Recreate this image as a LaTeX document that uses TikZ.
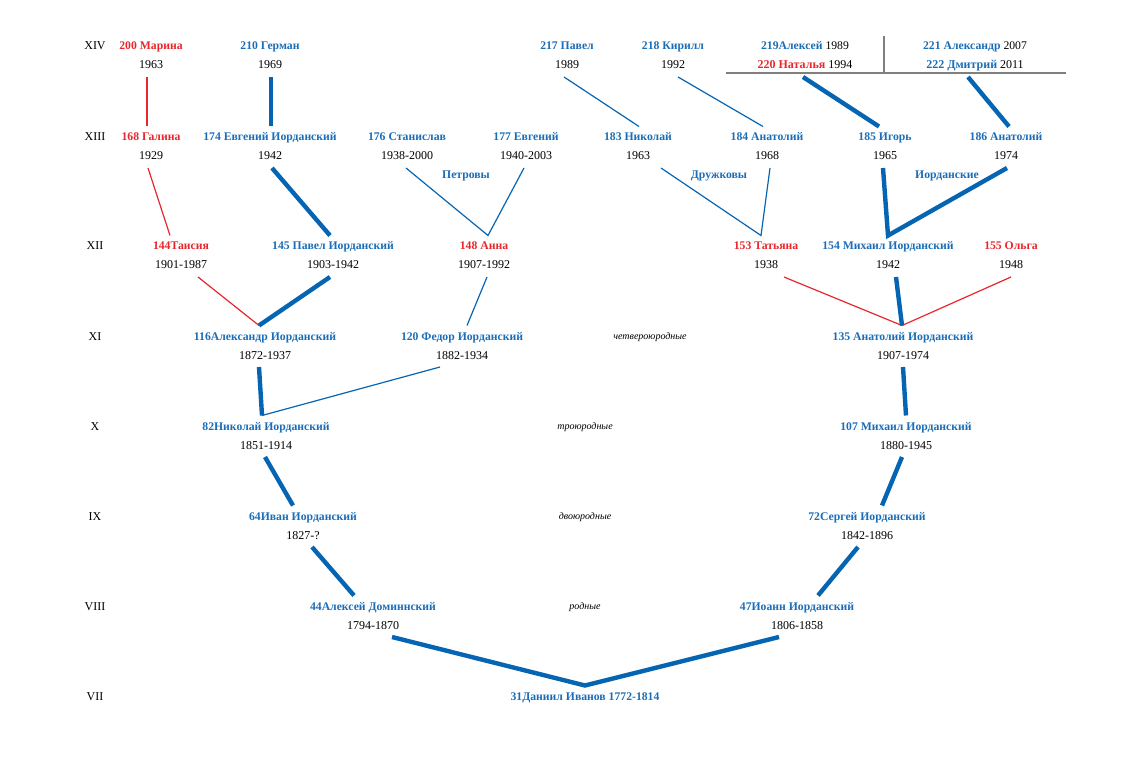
\documentclass[tikz,border=0pt]{standalone}
\usepackage{fontspec}
\setmainfont{Liberation Serif}
\usetikzlibrary{calc}
\definecolor{tblue}{HTML}{1B6DB7}
\definecolor{tred}{HTML}{E8262C}
\definecolor{lblue}{HTML}{0565B3}
\definecolor{lgray}{HTML}{7F7F7F}
\tikzset{
  nm/.style={anchor=base,inner sep=0pt,text height=8pt,text depth=2pt,outer xsep=0pt,outer ysep=6.5pt,font=\fontsize{11.7}{13}\selectfont\bfseries,text=tblue},
  nmr/.style={nm,text=tred},
  yr/.style={anchor=base,inner sep=0pt,text height=8pt,text depth=0pt,outer xsep=0pt,outer ysep=8pt,font=\fontsize{12}{13}\selectfont,text=black},
  gen/.style={anchor=base,inner sep=0pt,font=\fontsize{12}{13}\selectfont,text=black},
  rel/.style={anchor=base,inner sep=0pt,font=\fontsize{10}{12}\selectfont\itshape,text=black},
  fam/.style={anchor=base,inner sep=0pt,font=\fontsize{11.7}{13}\selectfont\bfseries,text=tblue},
  thinb/.style={draw=lblue,line width=1.2pt},
  thickb/.style={draw=lblue,line width=4.4pt},
  thinr/.style={draw=tred,line width=1.2pt},
  grayl/.style={draw=lgray,line width=1.2pt}
}
\begin{document}
\begin{tikzpicture}[x=1pt,y=-1pt]
\useasboundingbox (0,0) rectangle (1127,759);
% generation labels
\foreach \g/\yy in {XIV/45,XIII/136,XII/245,XI/335,X/425,IX/515,VIII/605,VII/695}
  \node[gen] at (95,\yy+5) {\g};
% XIV
\node[nmr] (n200) at (151,50) {200 Марина};
\node[yr]  (y200) at (151,69) {1963};
\node[nm]  (n210) at (270,50) {210 Герман};
\node[yr]  (y210) at (270,69) {1969};
\node[nm]  (n217) at (567,50) {217 Павел};
\node[yr]  (y217) at (567,69) {1989};
\node[nm]  (n218) at (673,50) {218 Кирилл};
\node[yr]  (y218) at (673,69) {1992};
\node[nm]  (p219) at (805,50) {219Алексей \mdseries\color{black}1989};
\node[yr]  (p220) at (805,69) {\bfseries\color{tred}220 Наталья \mdseries\color{black}1994};
\node[nm]  (p221) at (975,50) {221 Александр \mdseries\color{black}2007};
\node[yr]  (p222) at (975,69) {\bfseries\color{tblue}222 Дмитрий \mdseries\color{black}2011};
\draw[grayl] (726,73) -- (1066,73);
\draw[grayl] (884,36) -- (884,73);
% XIII
\node[nmr] (n168) at (151,141) {168 Галина};
\node[yr]  (y168) at (151,160) {1929};
\node[nm]  (n174) at (270,141) {174 Евгений Иорданский};
\node[yr]  (y174) at (270,160) {1942};
\node[nm]  (n176) at (407,141) {176 Станислав};
\node[yr]  (y176) at (407,160) {1938-2000};
\node[nm]  (n177) at (526,141) {177 Евгений};
\node[yr]  (y177) at (526,160) {1940-2003};
\node[nm]  (n183) at (638,141) {183 Николай};
\node[yr]  (y183) at (638,160) {1963};
\node[nm]  (n184) at (767,141) {184 Анатолий};
\node[yr]  (y184) at (767,160) {1968};
\node[nm]  (n185) at (885,141) {185 Игорь};
\node[yr]  (y185) at (885,160) {1965};
\node[nm]  (n186) at (1006,141) {186 Анатолий};
\node[yr]  (y186) at (1006,160) {1974};
\node[fam] (fp) at (466,179) {Петровы};
\node[fam] (fd) at (719,179) {Дружковы};
\node[fam] (fi) at (947,179) {Иорданские};
% XII
\node[nmr] (n144) at (181,250) {144Таисия};
\node[yr]  (y144) at (181,269) {1901-1987};
\node[nm]  (n145) at (333,250) {145 Павел Иорданский};
\node[yr]  (y145) at (333,269) {1903-1942};
\node[nmr] (n148) at (484,250) {148 Анна};
\node[yr]  (y148) at (484,269) {1907-1992};
\node[nmr] (n153) at (766,250) {153 Татьяна};
\node[yr]  (y153) at (766,269) {1938};
\node[nm]  (n154) at (888,250) {154 Михаил Иорданский};
\node[yr]  (y154) at (888,269) {1942};
\node[nmr] (n155) at (1011,250) {155 Ольга};
\node[yr]  (y155) at (1011,269) {1948};
% XI
\node[nm]  (n116) at (265,340) {116Александр Иорданский};
\node[yr]  (y116) at (265,359) {1872-1937};
\node[nm]  (n120) at (462,340) {120 Федор Иорданский};
\node[yr]  (y120) at (462,359) {1882-1934};
\node[rel] (r4) at (650,339) {четвероюродные};
\node[nm]  (n135) at (903,340) {135 Анатолий Иорданский};
\node[yr]  (y135) at (903,359) {1907-1974};
% X
\node[nm]  (n82) at (266,430) {82Николай Иорданский};
\node[yr]  (y82) at (266,449) {1851-1914};
\node[rel] (r3) at (585,429) {троюродные};
\node[nm]  (n107) at (906,430) {107 Михаил Иорданский};
\node[yr]  (y107) at (906,449) {1880-1945};
% IX
\node[nm]  (n64) at (303,520) {64Иван Иорданский};
\node[yr]  (y64) at (303,539) {1827-?};
\node[rel] (r2) at (585,519) {двоюродные};
\node[nm]  (n72) at (867,520) {72Сергей Иорданский};
\node[yr]  (y72) at (867,539) {1842-1896};
% VIII
\node[nm]  (n44) at (373,610) {44Алексей Доминнский};
\node[yr]  (y44) at (373,629) {1794-1870};
\node[rel] (r1) at (585,609) {родные};
\node[nm]  (n47) at (797,610) {47Иоанн Иорданский};
\node[yr]  (y47) at (797,629) {1806-1858};
% VII
\node[nm]  (n31) at (585,700) {31Даниил Иванов 1772-1814};
% connectors XIV -> XIII
\draw[thinr]  ([xshift=-4pt]y200.south) -- ([xshift=-4pt]n168.north);
\draw[thickb] ([xshift=1pt]y210.south) -- ([xshift=1pt]n174.north);
\draw[thinb]  ([xshift=-3pt]y217.south) -- ([xshift=1pt]n183.north);
\draw[thinb]  ([xshift=5pt]y218.south) -- ([xshift=-4pt]n184.north);
\draw[thickb] ([xshift=-2pt]p220.south) -- ([xshift=-6pt]n185.north);
\draw[thickb] ([xshift=-7pt]p222.south) -- ([xshift=3pt]n186.north);
% XIII -> XII
\draw[thinr]  ([xshift=-3pt]y168.south) -- ([xshift=-11pt]n144.north);
\draw[thickb] ([xshift=2pt]y174.south) -- ([xshift=-3pt]n145.north);
\draw[thinb]  ([xshift=-1pt]y176.south) -- ([xshift=4pt]n148.north) -- ([xshift=-2pt]y177.south);
\draw[thinb]  ([xshift=23pt]y183.south) -- ([xshift=-5pt]n153.north) -- ([xshift=3pt]y184.south);
\draw[thickb,line join=miter] ([xshift=-2pt]y185.south) -- (n154.north) -- ([xshift=1pt]y186.south);
% XII -> XI
\draw[thinr]  ([xshift=17pt]y144.south) -- ([xshift=-6pt]n116.north);
\draw[thickb] ([xshift=-3pt]y145.south) -- ([xshift=-6pt]n116.north);
\draw[thinb]  ([xshift=3pt]y148.south) -- ([xshift=5pt]n120.north);
\draw[thinr]  ([xshift=18pt]y153.south) -- ([xshift=-1pt]n135.north) -- ([xshift=0pt]y155.south);
\draw[thickb] ([xshift=8pt]y154.south) -- ([xshift=-1pt]n135.north);
% XI -> X
\draw[thickb] ([xshift=-6pt]y116.south) -- ([xshift=-4pt]n82.north);
\draw[thinb]  ([xshift=-22pt]y120.south) -- ([xshift=-4pt]n82.north);
\draw[thickb] (y135.south) -- (n107.north);
% X -> IX
\draw[thickb] ([xshift=-1pt]y82.south) -- ([xshift=-10pt]n64.north);
\draw[thickb] ([xshift=-4pt]y107.south) -- ([xshift=15pt]n72.north);
% IX -> VIII
\draw[thickb] ([xshift=9pt]y64.south) -- ([xshift=-19pt]n44.north);
\draw[thickb] ([xshift=-9pt]y72.south) -- ([xshift=21pt]n47.north);
% VIII -> VII
\draw[thickb] ([xshift=19pt]y44.south) -- (n31.north) -- ([xshift=-18pt]y47.south);
\end{tikzpicture}
\end{document}
